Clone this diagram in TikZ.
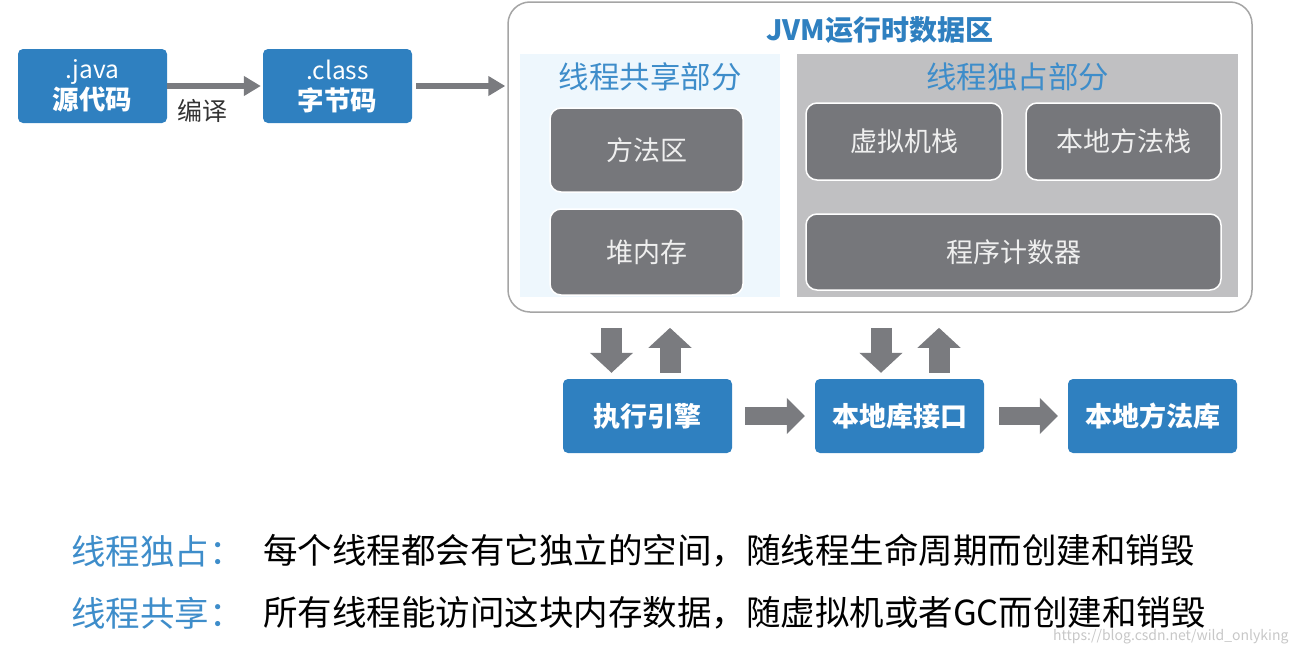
\documentclass[tikz,border=0pt]{standalone}
\usepackage{fontspec}
\setmainfont{Noto Sans CJK SC}
\usepackage{xcolor}
\usetikzlibrary{arrows.meta}

\definecolor{boxblue}{RGB}{47,128,192}
\definecolor{titleblue}{RGB}{62,141,202}
\definecolor{darkbox}{RGB}{118,119,123}
\definecolor{arrowgray}{RGB}{122,123,127}
\definecolor{sharedbg}{RGB}{238,247,253}
\definecolor{ownbg}{RGB}{192,192,194}
\definecolor{framegray}{RGB}{165,165,165}

\begin{document}
\begin{tikzpicture}[x=1pt, y=-1pt,
        bluebox/.style={fill=boxblue, rounded corners=5pt, text=white, align=center, inner sep=0pt},
        graybox/.style={fill=darkbox, draw=white, line width=1.5pt, rounded corners=11pt, text=white!88!darkbox, inner sep=0pt, font=\fontsize{27}{32}\selectfont},
        region/.style={inner sep=0pt, minimum width=#1},
        thinarrow/.style={arrowgray, line width=6pt, -{Triangle[width=19pt,length=17pt]}},
        blockarrow/.style={arrowgray, line width=21pt, -{Triangle[width=42pt,length=20pt]}},
        parttitle/.style={text=titleblue, font=\fontsize{30.5}{34}\selectfont},
        notelabel/.style={anchor=west, inner xsep=0pt, text=titleblue, font=\fontsize{34.5}{40}\selectfont},
        notetext/.style={anchor=west, inner xsep=0pt, text=black, font=\fontsize{34.5}{40}\selectfont}]
    \useasboundingbox (0,0) rectangle (1296,656);

    \node[bluebox, minimum width=149pt, minimum height=74pt, font=\fontsize{24.5}{31}\selectfont] (java) at (92.5,86) {.java\\\bfseries\fontsize{26.5}{31}\selectfont 源代码};
    \node[bluebox, minimum width=149pt, minimum height=74pt, font=\fontsize{24.5}{31}\selectfont] (class) at (337.5,86) {.class\\\bfseries\fontsize{26.5}{31}\selectfont 字节码};

    \node[draw=framegray, line width=1.5pt, fill=white, rounded corners=22pt, minimum width=744pt, minimum height=310pt, inner sep=0pt] (jvm) at (880,157) {};
    \node[text=boxblue, font=\bfseries\fontsize{28}{32}\selectfont] (jvmtitle) at (880,30) {JVM运行时数据区};
    \coordinate (jvmin) at (class.east -| jvm.west);

    \node[region=260pt, fill=sharedbg, minimum height=243pt] (shared) at (650,175.5) {};
    \node[region=441pt, fill=ownbg, minimum height=243pt] (own) at (1017.5,175.5) {};
    \node[parttitle] (sharedtitle) at (650,77) {线程共享部分};
    \node[parttitle] (owntitle) at (1017.5,77) {线程独占部分};

    \node[graybox, minimum width=193pt, minimum height=84pt] (method) at (646.5,150) {方法区};
    \node[graybox, minimum width=193pt, minimum height=86pt] (heap) at (646.5,252) {堆内存};
    \node[graybox, minimum width=196pt, minimum height=77pt] (vmstack) at (904,141.5) {虚拟机栈};
    \node[graybox, minimum width=195pt, minimum height=77pt] (nativestack) at (1123.5,141.5) {本地方法栈};
    \node[graybox, minimum width=415pt, minimum height=76pt] (pc) at (1013.5,252) {程序计数器};

    \node[bluebox, minimum width=169pt, minimum height=74pt, font=\bfseries\fontsize{27}{32}\selectfont] (engine) at (647.5,416) {执行引擎};
    \node[bluebox, minimum width=169pt, minimum height=74pt, font=\bfseries\fontsize{27}{32}\selectfont] (jni) at (899.5,416) {本地库接口};
    \node[bluebox, minimum width=169pt, minimum height=74pt, font=\bfseries\fontsize{27}{32}\selectfont] (nativelib) at (1152.5,416) {本地方法库};

    \draw[thinarrow] (java.east) -- ([xshift=-2pt]class.west) node[pos=0.38, below=7pt, text=black!80, font=\fontsize{25}{28}\selectfont] (compile) {编译};
    \draw[thinarrow] ([xshift=4pt]class.east) -- ([xshift=-2pt]jvmin);

    \draw[blockarrow] ([xshift=-36pt, yshift=51pt]engine.north) -- ([xshift=-36pt, yshift=6pt]engine.north);
    \draw[blockarrow] ([xshift=22.5pt, yshift=6pt]engine.north) -- ([xshift=22.5pt, yshift=51pt]engine.north);
    \draw[blockarrow] ([xshift=-18.5pt, yshift=51pt]jni.north) -- ([xshift=-18.5pt, yshift=6pt]jni.north);
    \draw[blockarrow] ([xshift=39.5pt, yshift=6pt]jni.north) -- ([xshift=39.5pt, yshift=51pt]jni.north);
    \draw[line width=18pt, arrowgray, -{Triangle[width=35pt,length=18pt]}] ([xshift=13pt]engine.east) -- ([xshift=-10pt]jni.west);
    \draw[line width=18pt, arrowgray, -{Triangle[width=35pt,length=18pt]}] ([xshift=15pt]jni.east) -- ([xshift=-10pt]nativelib.west);

    \node[notelabel] (ownnote) at (71,551) {线程独占：};
    \node[notetext] (owntext) at (263,551) {每个线程都会有它独立的空间，随线程生命周期而创建和销毁};
    \node[notelabel] (sharednote) at (71,613) {线程共享：};
    \node[notetext] (sharedtext) at (263,613) {所有线程能访问这块内存数据，随虚拟机或者GC而创建和销毁};

    \node[anchor=east, text=black!22, font=\fontsize{14}{16}\selectfont] (mark) at (1292,637) {https://blog.csdn.net/wild\_onlyking};
\end{tikzpicture}
\end{document}
